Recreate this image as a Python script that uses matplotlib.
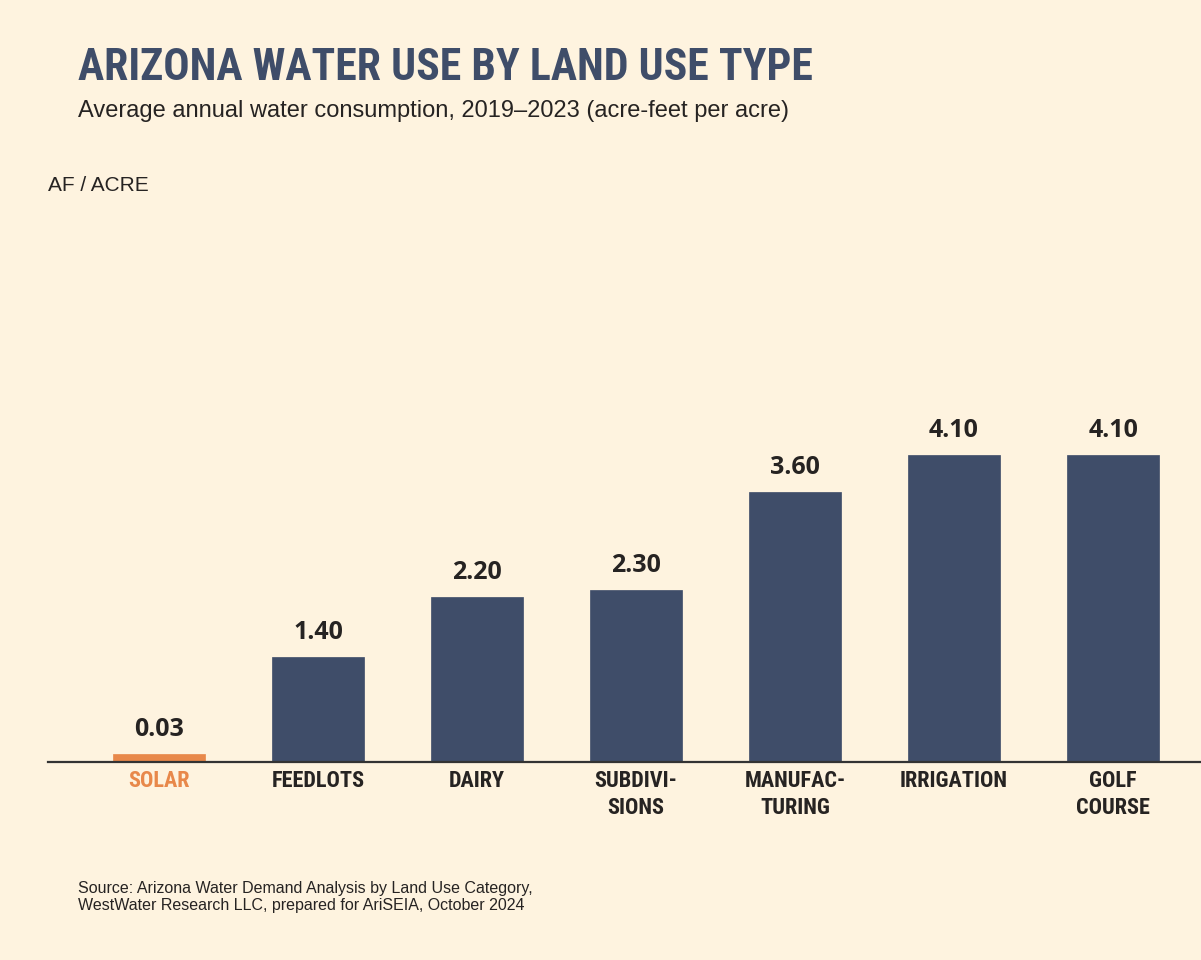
import numpy as np
import matplotlib.pyplot as plt

categories = ['SOLAR', 'FEEDLOTS', 'DAIRY', 'SUBDIVI-\nSIONS', 'MANUFAC-\nTURING', 'IRRIGATION', 'GOLF\nCOURSE']
values = [0.03, 1.40, 2.20, 2.30, 3.60, 4.10, 4.10]
value_labels = ['0.03', '1.40', '2.20', '2.30', '3.60', '4.10', '4.10']

bg = '#fef3df'
navy = '#3f4d69'
orange = '#e8884a'
ink = '#262322'
cond = ['Roboto Condensed', 'DejaVu Sans']
sans = ['Liberation Sans', 'DejaVu Sans']

fig = plt.figure(figsize=(12.01, 9.6), dpi=100, facecolor=bg)
ax = fig.add_axes([48 / 1201, 198 / 960, 1 - 48 / 1201, 562 / 960])
ax.set_facecolor(bg)

x = np.arange(len(categories))
colors = [orange] + [navy] * (len(categories) - 1)
# tiny values get a minimum visible bar height, like the original
heights = np.maximum(values, 0.11)
ax.bar(x, heights, width=0.58, color=colors, edgecolor=colors, linewidth=0.5)

for xi, h, lab in zip(x, heights, value_labels):
    ax.annotate(lab, (xi, h), xytext=(0, 13), textcoords='offset points',
                ha='center', va='baseline', fontsize=18, fontweight='bold',
                family=['Open Sans', 'DejaVu Sans'], color=ink)

ax.set_xlim(-0.698, 6.553)
ax.set_ylim(0, 7.5)
ax.set_xticks(x)
ax.set_xticklabels(categories, family=cond, fontweight='bold', fontsize=16, color=ink,
                   linespacing=1.28)
ax.get_xticklabels()[0].set_color(orange)
ax.tick_params(axis='x', length=0, pad=6)
ax.set_yticks([])
for s in ['top', 'left', 'right']:
    ax.spines[s].set_visible(False)
ax.spines['bottom'].set_color('#333333')
ax.spines['bottom'].set_linewidth(1.6)

fig.text(78 / 1201, 1 - 80 / 960, 'ARIZONA WATER USE BY LAND USE TYPE', family=cond,
         fontweight='bold', fontsize=31.5, color=navy, va='baseline')
fig.text(78 / 1201, 1 - 117 / 960, 'Average annual water consumption, 2019–2023 (acre-feet per acre)',
         family=sans, fontsize=17, color=ink, va='baseline')
fig.text(48 / 1201, 1 - 191 / 960, 'AF / ACRE', family=sans,
         fontsize=15, color=ink, va='baseline')
fig.text(78 / 1201, 1 - 910 / 960,
         'Source: Arizona Water Demand Analysis by Land Use Category,\nWestWater Research LLC, prepared for AriSEIA, October 2024',
         family=sans, fontsize=11.5, color=ink, va='baseline', linespacing=1.15)

fig.savefig('out.png', dpi=100, facecolor=bg)
